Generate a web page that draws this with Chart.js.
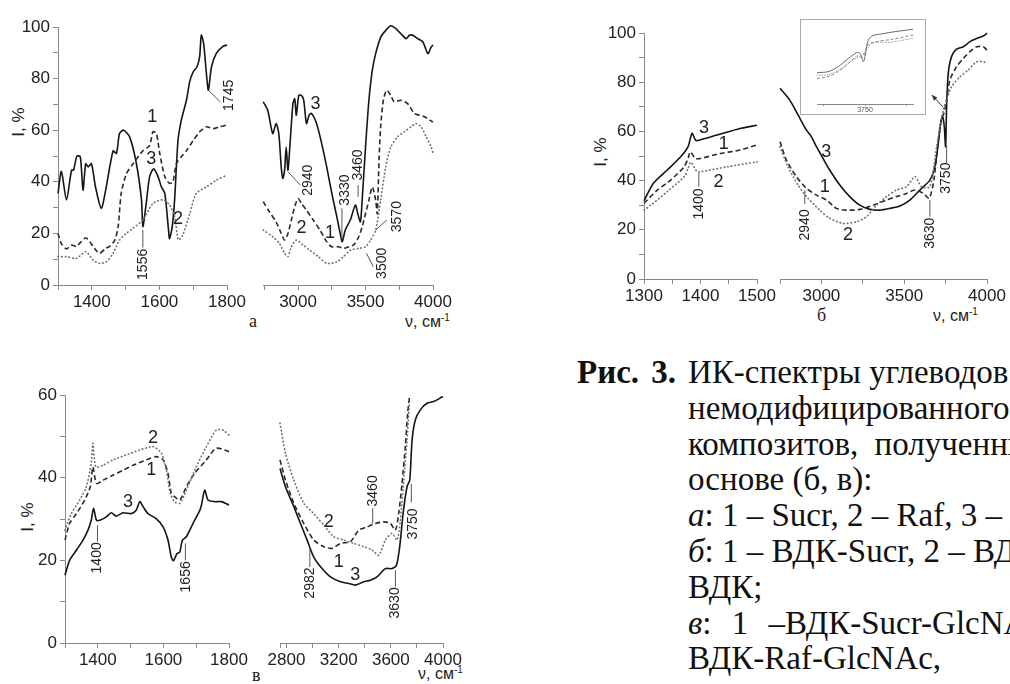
<!DOCTYPE html>
<html>
<head>
<meta charset="utf-8">
<script src="https://cdn.jsdelivr.net/npm/chart.js@4.4.0/dist/chart.umd.min.js"></script>
<style>
  body { margin: 0; width: 1010px; height: 684px; overflow: hidden; position: relative; background: #fff;
         font-family: "Liberation Sans", Arial, sans-serif; color: #222; }
  canvas { position: absolute; }
  .yt { position: absolute; font-size: 17px; white-space: nowrap; transform: translate(-50%, -50%) rotate(-90deg); }
  .xt { position: absolute; font-size: 16px; white-space: nowrap; }
  .xt sup { font-size: 10px; }
  .pl { position: absolute; font-family: "Liberation Serif", "Times New Roman", serif; font-size: 18px; }
  .inset { position: absolute; left: 800px; top: 19px; width: 126px; height: 96px; border: 1px solid #aaa; box-sizing: border-box; }
  .inset canvas { left: 0; top: 0; }
  .cap { position: absolute; left: 688px; top: 355px; font-family: "Liberation Serif", "Times New Roman", serif;
         font-size: 33px; line-height: 35.8px; white-space: nowrap; color: #111; }
  .cap .lead { position: absolute; left: -111px; top: 0; font-weight: bold; word-spacing: 4px; }
</style>
</head>
<body>

<div class="yt" style="left:19px; top:122px">I, %</div>
<div class="yt" style="left:601px; top:152px">I, %</div>
<div class="yt" style="left:28px; top:517px">I, %</div>

<div class="pl" style="left:249px; top:311px">а</div>
<div class="xt" style="left:405px; top:312px">ν, см<sup>-1</sup></div>
<div class="pl" style="left:817px; top:305px">б</div>
<div class="xt" style="left:933px; top:306px">ν, см<sup>-1</sup></div>
<div class="pl" style="left:252px; top:665px">в</div>
<div class="xt" style="left:418px; top:664px">ν, см<sup>-1</sup></div>

<div class="inset"><canvas id="inset" width="124" height="94"></canvas></div>

<div class="cap">
  <span class="lead">Рис. 3.</span>ИК-спектры углеводов<br>
  немодифицированного<br>
  <span style="word-spacing:8px">композитов, полученных</span><br>
  основе (б, в):<br>
  <i>а</i>: 1 – Sucr, 2 – Raf, 3 –<br>
  <i>б</i>: 1 – ВДК-Sucr, 2 – ВДК-Raf,<br>
  ВДК;<br>
  <span style="word-spacing:12px"><i>в</i>: 1 –ВДК-Sucr-GlcNAc,</span><br>
  ВДК-Raf-GlcNAc,
</div>

<script>
// ---- panel а: 1 - Sucr (dashed), 2 - Raf (dotted), 3 - solid ----
const aLowSucr = [[1300,20],[1310,16],[1325,14],[1340,15.5],[1354,15],[1369,16.8],[1382,18.3],[1394,16.8],[1408,14.2],[1423,12.3],[1441,14.2],[1453,15],[1468,17.4],[1478,22.6],[1487,35.5],[1502,43],[1522,47],[1551,52],[1571,54],[1581,59.4],[1591,58.7],[1601,51],[1616,42],[1630,39.4],[1640,40],[1650,47],[1665,49.7],[1680,52],[1700,56],[1719,59.4],[1739,61.3],[1759,60.6],[1778,61.3],[1800,62]];
const aLowRaf = [[1300,11],[1325,11],[1354,10.3],[1382,12.9],[1404,9.7],[1423,8.4],[1443,9],[1463,12.3],[1482,17.4],[1502,20],[1522,22],[1551,25.2],[1581,31.6],[1611,33],[1630,31],[1645,26.5],[1656,17.5],[1668,19],[1690,27.7],[1709,35.5],[1739,38],[1768,40.6],[1800,42.6]];
const aLowThird = [[1300,35.5],[1310,44],[1325,33],[1340,44.5],[1346,44.5],[1356,50],[1366,49.7],[1374,36.8],[1382,47],[1389,45.8],[1399,47],[1411,38],[1428,29.7],[1441,36.8],[1463,52],[1473,51],[1482,58.7],[1494,60],[1512,57.4],[1532,47],[1547,33],[1551,22.6],[1561,31.6],[1571,42],[1583,45],[1596,42],[1606,38],[1616,35.5],[1627,21.3],[1630,18],[1638,22.6],[1645,33],[1655,56],[1665,64],[1680,71.6],[1690,79],[1700,82.6],[1711,84.5],[1719,88.4],[1724,96.8],[1731,93.5],[1739,82],[1745,75.5],[1754,84.5],[1768,89.7],[1788,92.5],[1800,93]];
const aHighSucr = [[2742,32.3],[2787,28.4],[2837,24.5],[2875,20],[2900,17.4],[2925,20],[2950,25.2],[2975,30.3],[3000,33.5],[3025,31.6],[3062,29],[3112,25.2],[3162,21.3],[3212,16.8],[3250,14.8],[3300,14.8],[3337,14.2],[3375,14.8],[3412,15.5],[3450,18.7],[3475,22.6],[3500,27.7],[3525,32.9],[3550,38],[3575,32.9],[3587,27.7],[3600,48.4],[3612,61.3],[3632,71.6],[3657,75.5],[3687,73.5],[3712,71],[3762,71.6],[3812,70.3],[3862,66.5],[3900,65.8],[3937,65.2],[3975,63.9],[4000,63.2]];
const aHighRaf = [[2742,21.3],[2812,18.7],[2862,16.1],[2900,12.3],[2925,11],[2950,14.8],[2987,17.4],[3037,15.5],[3087,13.5],[3150,11],[3212,8.4],[3287,9],[3337,11],[3387,13.5],[3450,14.2],[3500,14.8],[3537,17.4],[3575,21.3],[3612,32.9],[3650,45.8],[3687,53.5],[3737,57.4],[3787,59.4],[3837,61.3],[3875,62.6],[3912,61.3],[3950,57.4],[3987,53.5],[4000,51]];
const aHighThird = [[2742,71],[2775,67.7],[2812,58.7],[2837,62.6],[2857,58.7],[2875,45.8],[2887,41.3],[2900,44.5],[2912,53.5],[2925,44.5],[2942,56],[2962,70.3],[2975,72.2],[2987,65.8],[3005,73.5],[3025,73.5],[3042,71.6],[3062,62.6],[3082,65.8],[3100,66.5],[3137,62.6],[3175,54.8],[3212,45.8],[3250,35.5],[3287,26.5],[3312,20],[3327,16.8],[3350,21.3],[3387,25.2],[3425,31],[3442,27.7],[3462,24.5],[3475,32.9],[3500,53.5],[3525,71.6],[3550,83.2],[3575,89.7],[3612,96],[3650,98.7],[3687,100.5],[3725,99.4],[3762,97.4],[3800,95.5],[3825,96.8],[3850,96.8],[3887,95.5],[3925,94.2],[3962,89.7],[3987,92.3],[4000,93]];

// ---- panel б: 1 - ВДК-Sucr, 2 - ВДК-Raf, 3 - ВДК ----
const bLowSucr = [[1300,30.8],[1324,36.2],[1347,40.2],[1371,45.6],[1378,49],[1382,51.7],[1391,49],[1400,49],[1435,51],[1470,52.4],[1500,54.5]];
const bLowRaf = [[1300,28],[1312,30],[1341,35.5],[1371,41.6],[1378,45],[1383,47.5],[1394,43.6],[1400,43.6],[1447,45.6],[1500,47.6]];
const bLowVdk = [[1300,31.8],[1317,39],[1341,44.3],[1365,49.7],[1378,53.8],[1385,59.2],[1391,56.5],[1395,56.3],[1429,58.5],[1470,61.2],[1500,62.5]];
const bHighSucr = [[2750,55.8],[2788,48.4],[2849,41.6],[2909,36.9],[2970,34.1],[3030,32.1],[3091,28.7],[3151,28],[3232,28.3],[3313,30],[3393,32.1],[3454,33.5],[3514,34.8],[3565,36.2],[3615,34.8],[3651,32.8],[3679,40.2],[3706,56.5],[3726,65.3],[3740,67.4],[3756,72.8],[3776,80.9],[3816,86.3],[3857,89.7],[3897,92.4],[3937,94.4],[3978,94.4],[4000,93]];
const bHighRaf = [[2750,53.8],[2798,45.7],[2859,38.2],[2919,32.8],[2990,28],[3050,24.7],[3131,22.6],[3212,23.3],[3272,25.3],[3333,30],[3393,33.5],[3454,36.2],[3514,37.5],[3565,41.6],[3605,37.5],[3655,37.5],[3696,53.8],[3720,63.3],[3736,68.7],[3756,72.8],[3786,78.2],[3837,82.2],[3887,85],[3937,88.3],[3978,88.3],[4000,87.6]];
const bHighVdk = [[2750,77.5],[2808,72.8],[2859,66.7],[2909,60.6],[2940,57.8],[2970,53.8],[3010,49],[3050,44.3],[3111,38.2],[3171,33.5],[3232,30],[3292,28.3],[3353,28],[3413,28.7],[3474,29.7],[3534,32.1],[3595,36.2],[3655,40.2],[3685,45.7],[3706,55.2],[3720,63.3],[3732,66],[3742,61.9],[3750,53.8],[3756,70],[3766,83.6],[3786,90.4],[3816,93.4],[3857,94.4],[3897,96.5],[3937,97.8],[3978,98.8],[4000,99.9]];

// inset of б around 3750 cm-1 (relative scale)
const insetVdk = [[3715,40.7],[3723,42],[3730.5,48.5],[3738,59.3],[3744,66.7],[3746.4,65.8],[3748.8,55],[3750,61.5],[3752,81],[3755,88.3],[3762,91],[3772,94],[3785,97]];
const insetSucr = [[3715,33.3],[3723,35.5],[3730.5,42],[3738,52.8],[3744,62.3],[3748.5,61],[3752,76.6],[3758,81],[3770,84],[3785,89.6]];
const insetRaf = [[3715,37.7],[3723,37.7],[3733,46.4],[3741,57],[3747,62.3],[3751,70],[3755,78.8],[3770,80.5],[3785,85.3]];

// ---- panel в: 1 - ВДК-Sucr-GlcNAc, 2 - ВДК-Raf-GlcNAc, 3 ----
const cLowSucr = [[1300,24.9],[1314,28.9],[1335,31.3],[1360,34.6],[1377,37.8],[1385,42.6],[1396,38.6],[1416,39.4],[1446,40.6],[1477,41.8],[1507,43],[1548,44.3],[1578,45.1],[1599,44.3],[1614,41],[1624,36.2],[1634,35.4],[1650,34.6],[1670,37.8],[1695,41],[1731,44.3],[1761,47.1],[1800,46.3]];
const cLowRaf = [[1300,27.3],[1319,31.3],[1345,34.6],[1365,37.8],[1380,43.5],[1385,48.3],[1394,42.6],[1416,43],[1446,44.3],[1487,45.5],[1528,46.7],[1569,47.5],[1594,45.9],[1609,41.8],[1621,36.2],[1634,34.2],[1650,33.8],[1670,37],[1700,42.6],[1731,47.5],[1761,51.5],[1782,51.5],[1800,50.3]];
const cLowThird = [[1300,16.4],[1314,20],[1335,22.5],[1355,24.9],[1370,27.3],[1380,29.7],[1387,32.6],[1396,29.7],[1406,29.7],[1426,30.5],[1441,31.5],[1456,30.7],[1477,31.5],[1502,31.3],[1517,32.1],[1528,34.2],[1538,33],[1553,31.3],[1578,30.1],[1599,28.1],[1614,24.9],[1624,20.8],[1631,19.9],[1641,21.6],[1650,22],[1658,24.9],[1670,25.7],[1690,28.9],[1711,32.1],[1716,33.4],[1726,37],[1736,34.6],[1756,34.2],[1777,34.2],[1800,33.4]];
const cHighSucr = [[2750,44.3],[2792,39.4],[2856,33.8],[2933,28.9],[3009,24.9],[3086,23.3],[3150,22.9],[3214,24.1],[3290,24.5],[3354,27.3],[3418,28.1],[3482,28.9],[3546,29.3],[3597,28.9],[3635,27.3],[3660,31.3],[3686,38.6],[3711,47.5],[3729,55.6],[3745,60]];
const cHighRaf = [[2750,53.2],[2792,45.9],[2856,39.4],[2933,33.8],[3009,31.3],[3086,28.5],[3163,25.7],[3239,24.9],[3316,24.1],[3392,23.3],[3456,22.5],[3507,21.2],[3558,24.9],[3609,26.5],[3648,24.9],[3673,29.7],[3699,39.4],[3724,49.1],[3742,58]];
const cHighThird = [[2750,42.2],[2792,37.8],[2856,33],[2907,28.9],[2958,24.9],[3009,20.8],[3073,18],[3137,16],[3214,14.8],[3277,14.4],[3328,14],[3392,14.8],[3443,15.2],[3494,16],[3558,18],[3609,18],[3643,18.8],[3668,23.3],[3694,31.3],[3724,37.8],[3745,39.4],[3763,49.1],[3788,54],[3826,56.4],[3877,58],[3928,58.4],[3992,59.5],[4000,59.6]];

// axis ticks and the ticks that carry labels
const aLowTicks = [1300, 1400, 1500, 1600, 1700, 1800], aLowLabels = [1400, 1600, 1800];
const aHighTicks = [2750, 3000, 3250, 3500, 3750, 4000], aHighLabels = [3000, 3500, 4000];
const bLowTicks = [1300, 1350, 1400, 1450, 1500], bLowLabels = [1300, 1400, 1500];
const bHighTicks = [2750, 3000, 3250, 3500, 3750, 4000], bHighLabels = [3000, 3500, 4000];
const cLowTicks = [1300, 1400, 1500, 1600, 1700, 1800], cLowLabels = [1400, 1600, 1800];
const cHighTicks = [2750, 2800, 3000, 3200, 3400, 3600, 3800, 4000], cHighLabels = [2800, 3200, 3600, 4000];
const pctTicks = [0, 10, 20, 30, 40, 50, 60, 70, 80, 90, 100], pctLabels = [0, 20, 40, 60, 80, 100];
const pctTicksC = [0, 10, 20, 30, 40, 50, 60], pctLabelsC = [0, 20, 40, 60];
const insetTicks = [3720, 3750, 3780], insetLabels = [3750];

// curve numbers and peak marks: [text, x, y] and [text, textX, textY, x1, y1, x2, y2]
const aLowNums = [["1", 1579, 65], ["3", 1576, 49], ["2", 1655, 25.5]];
const aLowMarks = [["1556", 1551, 8, 1551, 21.3, 1551, 14.5], ["1745", 1806, 73.5, 1747, 75.2, 1780, 71]];
const aHighNums = [["3", 3130, 70.3], ["2", 3025, 21.9], ["1", 3237, 20]];
const aHighMarks = [["2940", 3075, 40.6, 2925, 43.9, 3017, 38.7], ["3330", 3350, 36.8, 3325, 29.7, 3325, 18.1],
  ["3460", 3445, 46.5, 3445, 38.7, 3445, 34.2], ["3570", 3737, 26.5, 3575, 21.3, 3657, 25.2], ["3500", 3625, 8.4, 3507, 12.3, 3557, 7.1]];
const bLowNums = [["3", 1406, 61.5], ["1", 1441, 55], ["2", 1432, 39.5]];
const bLowMarks = [["1400", 1397, 30.5, 1397, 43, 1397, 37.5]];
const bHighNums = [["3", 3030, 51.7], ["1", 3020, 37.5], ["2", 3161, 17.9]];
const bHighMarks = [["2940", 2900, 22, 2900, 36, 2900, 30.5], ["3630", 3655, 18.6, 3655, 32.1, 3655, 25.3], ["3750", 3756, 41, 3756, 54.5, 3756, 47]];
const bHighArrow = [3733, 70, 3667, 74.8];
const cLowNums = [["2", 1568, 49.5], ["1", 1563, 41.8], ["3", 1492, 34.2]];
const cLowMarks = [["1400", 1399, 20.6, 1399, 28.5, 1399, 24.5], ["1656", 1669, 16, 1667, 24.1, 1667, 20]];
const cHighNums = [["2", 3124, 29.3], ["1", 3201, 19.6], ["3", 3328, 16.4]];
const cHighMarks = [["2982", 2979, 14.5, 2979, 22.9, 2979, 18.4], ["3460", 3461, 36.8, 3461, 32.6, 3461, 28.9],
  ["3630", 3635, 9.7, 3635, 17.6, 3635, 13.6], ["3750", 3770, 28.8, 3757, 38.5, 3757, 34]];

const FONT = '"Liberation Sans", Arial, sans-serif';
const styles = {
  solid: { borderColor: "#151515", borderWidth: 1.6, borderDash: [] },
  dash: { borderColor: "#2a2a2a", borderWidth: 1.6, borderDash: [5, 3] },
  dot: { borderColor: "#707070", borderWidth: 1.7, borderDash: [0.5, 3.2], borderCapStyle: "round" },
};

const notesById = {};

// draws curve numbers, rotated peak labels with leader lines and the inset arrow
const notesPlugin = {
  id: "notes",
  afterDatasetsDraw(chart) {
    const n = notesById[chart.canvas.id];
    if (!n) return;
    const ctx = chart.ctx, xs = chart.scales.x, ys = chart.scales.y;
    const X = (v) => xs.getPixelForValue(v), Y = (v) => ys.getPixelForValue(v);
    ctx.save();
    ctx.fillStyle = "#222";
    ctx.textAlign = "center";
    ctx.textBaseline = "middle";
    ctx.font = "18px " + FONT;
    (n.nums || []).forEach(([t, x, y]) => ctx.fillText(t, X(x), Y(y)));
    ctx.strokeStyle = "#555";
    ctx.lineWidth = 1;
    ctx.font = "14px " + FONT;
    (n.marks || []).forEach(([t, tx, ty, x1, y1, x2, y2]) => {
      ctx.beginPath();
      ctx.moveTo(X(x1), Y(y1));
      ctx.lineTo(X(x2), Y(y2));
      ctx.stroke();
      ctx.save();
      ctx.translate(X(tx), Y(ty));
      ctx.rotate(-Math.PI / 2);
      ctx.fillText(t, 0, 0);
      ctx.restore();
    });
    if (n.arrow) {
      const [x1, y1, x2, y2] = n.arrow;
      const ax = X(x1), ay = Y(y1), bx = X(x2), by = Y(y2);
      const ang = Math.atan2(by - ay, bx - ax);
      ctx.strokeStyle = "#333";
      ctx.beginPath();
      ctx.moveTo(ax, ay);
      ctx.lineTo(bx, by);
      ctx.stroke();
      ctx.fillStyle = "#333";
      ctx.beginPath();
      ctx.moveTo(bx, by);
      ctx.lineTo(bx - 6 * Math.cos(ang - 0.4), by - 6 * Math.sin(ang - 0.4));
      ctx.lineTo(bx - 6 * Math.cos(ang + 0.4), by - 6 * Math.sin(ang + 0.4));
      ctx.closePath();
      ctx.fill();
    }
    ctx.restore();
  },
};
Chart.register(notesPlugin);

function axis(min, max, ticks, labels, extra) {
  return Object.assign({
    type: "linear",
    min: min,
    max: max,
    afterBuildTicks: (s) => { s.ticks = ticks.map((v) => ({ value: v })); },
    ticks: {
      autoSkip: false,
      maxRotation: 0,
      color: "#222",
      font: { family: FONT, size: 17 },
      callback: (v) => (labels.includes(v) ? String(v) : ""),
    },
    grid: { drawOnChartArea: false, drawTicks: true, tickLength: 5, color: "#8a8a8a" },
    border: { display: true, color: "#8a8a8a", width: 1 },
  }, extra);
}

// box = [left, right, top, bottom] of the plot area on the page
function makePanel(id, box, xr, yr, series, notes) {
  const cv = document.createElement("canvas");
  cv.id = id;
  cv.width = box[1] - box[0] + 100;
  cv.height = box[3] - box[2] + 50;
  cv.style.left = box[0] - 60 + "px";
  cv.style.top = box[2] - 20 + "px";
  document.body.appendChild(cv);
  notesById[id] = notes;
  const xAxis = axis(xr[0], xr[1], xr[2], xr[3], { afterFit: (s) => { s.height = 30; } });
  xAxis.ticks.padding = 2;
  let yAxis;
  if (yr[2]) {
    yAxis = axis(yr[0], yr[1], yr[2], yr[3], { position: "left", afterFit: (s) => { s.width = 60; } });
    yAxis.ticks.padding = 3;
  } else {
    yAxis = { type: "linear", min: yr[0], max: yr[1], display: false };
  }
  new Chart(cv, {
    type: "line",
    data: {
      datasets: series.map(([pts, st]) => Object.assign({
        data: pts.map(([x, y]) => ({ x, y })),
        pointRadius: 0,
        tension: 0.25,
        fill: false,
        clip: false,
      }, styles[st])),
    },
    options: {
      responsive: false,
      animation: false,
      events: [],
      layout: { padding: { left: yr[2] ? 0 : 60, top: 20, right: 40, bottom: 0 } },
      plugins: { legend: { display: false }, tooltip: { enabled: false } },
      scales: { x: xAxis, y: yAxis },
    },
  });
}

makePanel("aLow", [58, 227, 27, 285], [1300, 1800, aLowTicks, aLowLabels], [0, 100, pctTicks, pctLabels],
  [[aLowRaf, "dot"], [aLowSucr, "dash"], [aLowThird, "solid"]], { nums: aLowNums, marks: aLowMarks });
makePanel("aHigh", [263, 433, 27, 285], [2740, 4000, aHighTicks, aHighLabels], [0, 100],
  [[aHighRaf, "dot"], [aHighSucr, "dash"], [aHighThird, "solid"]], { nums: aHighNums, marks: aHighMarks });
makePanel("bLow", [644, 757, 33, 279], [1300, 1500, bLowTicks, bLowLabels], [0, 100, pctTicks, pctLabels],
  [[bLowRaf, "dot"], [bLowSucr, "dash"], [bLowVdk, "solid"]], { nums: bLowNums, marks: bLowMarks });
makePanel("bHigh", [780, 987, 33, 279], [2750, 4000, bHighTicks, bHighLabels], [0, 100],
  [[bHighRaf, "dot"], [bHighSucr, "dash"], [bHighVdk, "solid"]], { nums: bHighNums, marks: bHighMarks, arrow: bHighArrow });
makePanel("cLow", [65, 229, 395, 643], [1300, 1800, cLowTicks, cLowLabels], [0, 60, pctTicksC, pctLabelsC],
  [[cLowRaf, "dot"], [cLowSucr, "dash"], [cLowThird, "solid"]], { nums: cLowNums, marks: cLowMarks });
makePanel("cHigh", [280, 443, 395, 643], [2750, 4000, cHighTicks, cHighLabels], [0, 60],
  [[cHighRaf, "dot"], [cHighSucr, "dash"], [cHighThird, "solid"]], { nums: cHighNums, marks: cHighMarks });

// inset: magnified region near 3750 cm-1
const insetX = axis(3715, 3785, insetTicks, insetLabels, { afterFit: (s) => { s.height = 10; } });
insetX.ticks.font = { family: FONT, size: 7 };
insetX.ticks.color = "#555";
insetX.ticks.padding = 0;
insetX.grid.tickLength = 2;
new Chart(document.getElementById("inset"), {
  type: "line",
  data: {
    datasets: [[insetRaf, "dot"], [insetSucr, "dash"], [insetVdk, "solid"]].map(([pts, st]) => Object.assign({
      data: pts.map(([x, y]) => ({ x, y })),
      pointRadius: 0,
      tension: 0.3,
      fill: false,
      clip: false,
    }, styles[st], { borderWidth: 1, borderColor: st === "solid" ? "#666" : "#888", borderDash: st === "dash" ? [3, 2] : st === "dot" ? [0.5, 2] : [] })),
  },
  options: {
    responsive: false,
    animation: false,
    events: [],
    layout: { padding: { left: 16, top: 7, right: 12, bottom: 0 } },
    plugins: { legend: { display: false }, tooltip: { enabled: false } },
    scales: { x: insetX, y: { type: "linear", min: 0, max: 100, display: false } },
  },
});
</script>
</body>
</html>
